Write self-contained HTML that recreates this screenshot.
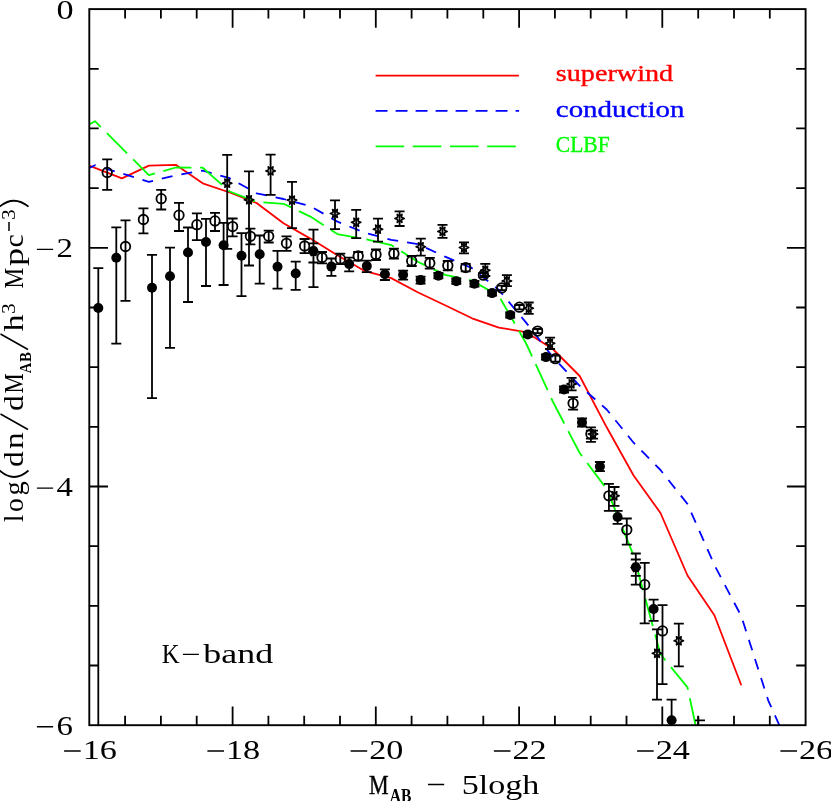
<!DOCTYPE html>
<html><head><meta charset="utf-8"><title>K-band luminosity function</title>
<style>
html,body{margin:0;padding:0;background:#fff;}
body{width:831px;height:801px;overflow:hidden;font-family:"Liberation Serif",serif;}
svg{display:block;position:absolute;left:0;top:0;will-change:transform;opacity:0.999;}
text{font-family:"Liberation Serif",serif;fill:#000;}
.ss{font-family:"Liberation Sans",sans-serif;}
</style></head><body>
<svg width="831" height="801" viewBox="0 0 831 801">
<rect x="0" y="0" width="831" height="801" fill="#fff"/>
<defs><clipPath id="c"><rect x="89.3" y="4.1" width="716.3" height="721.1"/></clipPath></defs>
<path d="M125.1 725.2v-9.4M125.1 9.1v9.4M160.9 725.2v-9.4M160.9 9.1v9.4M196.7 725.2v-9.4M196.7 9.1v9.4M232.6 725.2v-18.7M232.6 9.1v18.7M268.4 725.2v-9.4M268.4 9.1v9.4M304.2 725.2v-9.4M304.2 9.1v9.4M340.0 725.2v-9.4M340.0 9.1v9.4M375.8 725.2v-18.7M375.8 9.1v18.7M411.6 725.2v-9.4M411.6 9.1v9.4M447.4 725.2v-9.4M447.4 9.1v9.4M483.3 725.2v-9.4M483.3 9.1v9.4M519.1 725.2v-18.7M519.1 9.1v18.7M554.9 725.2v-9.4M554.9 9.1v9.4M590.7 725.2v-9.4M590.7 9.1v9.4M626.5 725.2v-9.4M626.5 9.1v9.4M662.3 725.2v-18.7M662.3 9.1v18.7M698.2 725.2v-9.4M698.2 9.1v9.4M734.0 725.2v-9.4M734.0 9.1v9.4M769.8 725.2v-9.4M769.8 9.1v9.4M89.3 68.8h9.4M805.6 68.8h-9.4M89.3 128.4h9.4M805.6 128.4h-9.4M89.3 188.1h9.4M805.6 188.1h-9.4M89.3 247.8h18.7M805.6 247.8h-18.7M89.3 307.5h9.4M805.6 307.5h-9.4M89.3 367.1h9.4M805.6 367.1h-9.4M89.3 426.8h9.4M805.6 426.8h-9.4M89.3 486.5h18.7M805.6 486.5h-18.7M89.3 546.2h9.4M805.6 546.2h-9.4M89.3 605.9h9.4M805.6 605.9h-9.4M89.3 665.5h9.4M805.6 665.5h-9.4" stroke="#000" stroke-width="1.8" fill="none"/>
<g clip-path="url(#c)" fill="none" stroke-width="1.8" stroke-linejoin="round">
<polyline points="89.3,165.6 95.0,167.8 121.9,178.4 148.9,165.6 175.8,164.8 202.7,183.3 229.7,192.5 256.6,203.0 283.5,223.3 310.4,238.6 337.4,255.2 364.3,270.8 391.2,278.1 418.2,292.5 445.1,305.2 472.0,318.3 498.9,327.6 525.9,332.1 552.8,349.0 579.7,376.0 606.7,427.3 633.6,475.5 660.5,513.0 687.5,575.5 714.4,615.3 741.3,685.3" stroke="#ff0000"/>
<polyline points="89.3,168.0 95.0,165.2 121.9,173.5 148.9,181.8 175.8,175.4 202.7,170.6 229.7,178.2 256.6,193.3 283.5,199.0 310.4,206.2 337.4,221.6 364.3,232.5 391.2,239.8 418.2,244.2 445.1,256.7 472.0,268.2 498.9,290.0 525.9,322.4 552.8,357.0 579.7,385.8 606.7,409.5 633.6,442.7 660.5,470.0 687.5,504.0 714.4,565.0 741.3,616.2 768.2,700.3 779.3,725.2 782.0,731.0" stroke="#0000ff" stroke-dasharray="11 9" stroke-dashoffset="4.0"/>
<polyline points="89.3,124.4 95.0,121.2 121.9,148.2 148.9,175.2 175.8,167.5 202.7,167.7 229.7,191.5 256.6,202.0 283.5,203.8 310.4,216.6 337.4,234.1 364.3,239.0 391.2,245.1 418.2,262.0 445.1,274.9 472.0,280.6 498.9,296.0 525.9,343.0 552.8,401.5 579.7,453.0 606.7,489.0 633.6,555.5 660.5,654.3 687.5,687.4 695.6,725.2 697.0,735.0" stroke="#00ff00" stroke-dasharray="28.6 8.6" stroke-dashoffset="13.8"/>
</g>
<g fill="none" stroke-width="1.8">
<path d="M375.6 75.6H518.9" stroke="#ff0000"/>
<path d="M375.6 110.8H519.1" stroke="#0000ff" stroke-dasharray="11.9 8.1"/>
<path d="M375.6 146.4H516" stroke="#00ff00" stroke-dasharray="28.6 8.6"/>
</g>
<path d="M107.2 159.3V189.9M102.2 189.9H112.2M102.2 159.3H112.2M125.5 220.3V300.8M120.5 300.8H130.5M120.5 220.3H130.5M143.4 208.3V233.3M138.4 233.3H148.4M138.4 208.3H148.4M161.2 189.9V209.5M156.2 209.5H166.2M156.2 189.9H166.2M179.0 202.9V231.0M174.0 231.0H184.0M174.0 202.9H184.0M196.9 213.3V240.1M191.9 240.1H201.9M191.9 213.3H201.9M215.0 212.8V231.0M210.0 231.0H220.0M210.0 212.8H220.0M232.6 218.5V236.3M227.6 236.3H237.6M227.6 218.5H237.6M250.4 228.7V244.4M245.4 244.4H255.4M245.4 228.7H255.4M268.7 230.6V242.5M263.7 242.5H273.7M263.7 230.6H273.7M286.5 236.3V250.9M281.5 250.9H291.5M281.5 236.3H291.5M304.6 239.0V253.1M299.6 253.1H309.6M299.6 239.0H309.6M322.0 252.0V263.3M317.0 263.3H327.0M317.0 252.0H327.0M340.3 253.6V264.1M335.3 264.1H345.3M335.3 253.6H345.3M358.2 252.0V260.6M353.2 260.6H363.2M353.2 252.0H363.2M376.0 249.5V260.0M371.0 260.0H381.0M371.0 249.5H381.0M393.9 248.7V258.5M388.9 258.5H398.9M388.9 248.7H398.9M411.7 256.0V266.0M406.7 266.0H416.7M406.7 256.0H416.7M429.8 257.8V268.7M424.8 268.7H434.8M424.8 257.8H434.8M447.8 261.0V270.3M442.8 270.3H452.8M442.8 261.0H452.8M465.7 263.9V271.3M460.7 271.3H470.7M460.7 263.9H470.7M483.4 273.0V277.4M478.4 277.4H488.4M478.4 273.0H488.4M501.7 285.7V290.1M496.7 290.1H506.7M496.7 285.7H506.7M519.4 305.0V309.4M514.4 309.4H524.4M514.4 305.0H524.4M537.6 329.0V333.2M532.6 333.2H542.6M532.6 329.0H542.6M555.4 355.7V361.7M550.4 361.7H560.4M550.4 355.7H560.4M573.1 397.2V409.7M568.1 409.7H578.1M568.1 397.2H578.1M590.9 427.3V441.9M585.9 441.9H595.9M585.9 427.3H595.9M608.9 483.8V510.8M603.9 510.8H613.9M603.9 483.8H613.9M626.8 518.5V544.6M621.8 544.6H631.8M621.8 518.5H631.8M644.7 562.8V623.3M639.7 623.3H649.7M639.7 562.8H649.7M662.5 605.1V684.1M657.5 684.1H667.5M657.5 605.1H667.5M98.3 268.2V725.2M93.3 268.2H103.3M116.3 227.3V343.7M111.3 343.7H121.3M111.3 227.3H121.3M152.0 254.9V398.1M147.0 398.1H157.0M147.0 254.9H157.0M170.0 247.6V347.9M165.0 347.9H175.0M165.0 247.6H175.0M188.0 227.5V302.0M183.0 302.0H193.0M183.0 227.5H193.0M206.0 218.8V286.0M201.0 286.0H211.0M201.0 218.8H211.0M223.6 222.8V285.0M218.6 285.0H228.6M218.6 222.8H228.6M241.5 233.1V296.2M236.5 296.2H246.5M236.5 233.1H246.5M259.7 235.5V283.7M254.7 283.7H264.7M254.7 235.5H264.7M277.5 250.9V288.7M272.5 288.7H282.5M272.5 250.9H282.5M295.7 261.7V289.8M290.7 289.8H300.7M290.7 261.7H300.7M313.4 243.4V262.5M308.4 262.5H318.4M308.4 243.4H318.4M331.4 258.5V275.8M326.4 275.8H336.4M326.4 258.5H336.4M349.2 257.6V271.4M344.2 271.4H354.2M344.2 257.6H354.2M366.8 260.6V272.2M361.8 272.2H371.8M361.8 260.6H371.8M384.9 269.3V280.0M379.9 280.0H389.9M379.9 269.3H389.9M403.1 270.6V279.6M398.1 279.6H408.1M398.1 270.6H408.1M420.6 276.6V283.6M415.6 283.6H425.6M415.6 276.6H425.6M438.4 273.0V278.4M433.4 278.4H443.4M433.4 273.0H443.4M456.3 278.5V283.9M451.3 283.9H461.3M451.3 278.5H461.3M474.4 281.0V286.6M469.4 286.6H479.4M469.4 281.0H479.4M492.1 290.5V295.7M487.1 295.7H497.1M487.1 290.5H497.1M510.2 312.5V317.5M505.2 317.5H515.2M505.2 312.5H515.2M527.8 332.0V336.8M522.8 336.8H532.8M522.8 332.0H532.8M546.0 354.5V359.7M541.0 359.7H551.0M541.0 354.5H551.0M564.0 386.5V392.5M559.0 392.5H569.0M559.0 386.5H569.0M582.0 418.5V426.5M577.0 426.5H587.0M577.0 418.5H587.0M599.9 462.0V471.2M594.9 471.2H604.9M594.9 462.0H604.9M617.6 510.8V523.8M612.6 523.8H622.6M612.6 510.8H622.6M635.8 559.5V575.8M630.8 575.8H640.8M630.8 559.5H640.8M653.6 599.7V620.8M648.6 620.8H658.6M648.6 599.7H658.6M671.6 699.6V725.2M666.6 699.6H676.6M227.2 154.8V248.8M222.2 248.8H232.2M222.2 154.8H232.2M249.0 171.4V265.5M244.0 265.5H254.0M244.0 171.4H254.0M270.6 154.6V194.9M265.6 194.9H275.6M265.6 154.6H275.6M292.0 181.9V228.2M287.0 228.2H297.0M287.0 181.9H297.0M313.5 229.7V287.2M308.5 287.2H318.5M308.5 229.7H318.5M335.0 200.3V229.2M330.0 229.2H340.0M330.0 200.3H340.0M356.2 209.8V238.2M351.2 238.2H361.2M351.2 209.8H361.2M378.0 218.7V241.7M373.0 241.7H383.0M373.0 218.7H383.0M399.6 211.4V226.0M394.6 226.0H404.6M394.6 211.4H404.6M420.8 238.7V255.7M415.8 255.7H425.8M415.8 238.7H425.8M442.5 224.9V237.9M437.5 237.9H447.5M437.5 224.9H447.5M464.0 242.3V253.3M459.0 253.3H469.0M459.0 242.3H469.0M485.3 263.8V276.0M480.3 276.0H490.3M480.3 263.8H490.3M506.9 275.2V286.1M501.9 286.1H511.9M501.9 275.2H511.9M528.7 302.5V313.9M523.7 313.9H533.7M523.7 302.5H533.7M550.1 337.6V349.0M545.1 349.0H555.1M545.1 337.6H555.1M571.6 377.9V390.4M566.6 390.4H576.6M566.6 377.9H576.6M593.0 430.6V438.7M588.0 438.7H598.0M588.0 430.6H598.0M614.5 487.0V505.8M609.5 505.8H619.5M609.5 487.0H619.5M635.8 553.5V584.7M630.8 584.7H640.8M630.8 553.5H640.8M657.0 629.4V699.6M652.0 699.6H662.0M652.0 629.4H662.0M678.8 623.6V666.3M673.8 666.3H683.8M673.8 623.6H683.8M313.4 229.7V287.2M308.4 287.2H318.4M308.4 229.7H318.4M590.9 430.6V438.7M585.9 438.7H595.9M585.9 430.6H595.9M698.3 716.5V725.2M695 720.4H705" stroke="#000" stroke-width="1.8" fill="none"/>
<g stroke="#000" stroke-width="1.8" fill="none">
<circle cx="107.2" cy="172.4" r="4.75"/>
<circle cx="125.5" cy="246.5" r="4.75"/>
<circle cx="143.4" cy="219.5" r="4.75"/>
<circle cx="161.2" cy="198.7" r="4.75"/>
<circle cx="179.0" cy="215.2" r="4.75"/>
<circle cx="196.9" cy="224.7" r="4.75"/>
<circle cx="215.0" cy="220.9" r="4.75"/>
<circle cx="232.6" cy="226.6" r="4.75"/>
<circle cx="250.4" cy="236.3" r="4.75"/>
<circle cx="268.7" cy="236.3" r="4.75"/>
<circle cx="286.5" cy="243.3" r="4.75"/>
<circle cx="304.6" cy="246.0" r="4.75"/>
<circle cx="322.0" cy="257.6" r="4.75"/>
<circle cx="340.3" cy="258.9" r="4.75"/>
<circle cx="358.2" cy="256.0" r="4.75"/>
<circle cx="376.0" cy="254.4" r="4.75"/>
<circle cx="393.9" cy="253.6" r="4.75"/>
<circle cx="411.7" cy="260.9" r="4.75"/>
<circle cx="429.8" cy="263.0" r="4.75"/>
<circle cx="447.8" cy="265.5" r="4.75"/>
<circle cx="465.7" cy="267.6" r="4.75"/>
<circle cx="483.4" cy="275.2" r="4.75"/>
<circle cx="501.7" cy="287.9" r="4.75"/>
<circle cx="519.4" cy="307.2" r="4.75"/>
<circle cx="537.6" cy="331.1" r="4.75"/>
<circle cx="555.4" cy="358.7" r="4.75"/>
<circle cx="573.1" cy="403.3" r="4.75"/>
<circle cx="590.9" cy="434.1" r="4.75"/>
<circle cx="608.9" cy="495.8" r="4.75"/>
<circle cx="626.8" cy="529.8" r="4.75"/>
<circle cx="644.7" cy="584.7" r="4.75"/>
<circle cx="662.5" cy="630.9" r="4.75"/>
</g>
<g stroke="#000" stroke-width="1.6" fill="none" stroke-linejoin="round">
<polygon points="231.90,183.20 229.11,184.30 229.55,187.27 227.20,185.40 224.85,187.27 225.29,184.30 222.50,183.20 225.29,182.10 224.85,179.13 227.20,181.00 229.55,179.13 229.11,182.10"/>
<polygon points="253.70,199.80 250.91,200.90 251.35,203.87 249.00,202.00 246.65,203.87 247.09,200.90 244.30,199.80 247.09,198.70 246.65,195.73 249.00,197.60 251.35,195.73 250.91,198.70"/>
<polygon points="275.30,170.90 272.51,172.00 272.95,174.97 270.60,173.10 268.25,174.97 268.69,172.00 265.90,170.90 268.69,169.80 268.25,166.83 270.60,168.70 272.95,166.83 272.51,169.80"/>
<polygon points="296.70,200.10 293.91,201.20 294.35,204.17 292.00,202.30 289.65,204.17 290.09,201.20 287.30,200.10 290.09,199.00 289.65,196.03 292.00,197.90 294.35,196.03 293.91,199.00"/>
<polygon points="318.20,251.50 315.41,252.60 315.85,255.57 313.50,253.70 311.15,255.57 311.59,252.60 308.80,251.50 311.59,250.40 311.15,247.43 313.50,249.30 315.85,247.43 315.41,250.40"/>
<polygon points="339.70,213.50 336.91,214.60 337.35,217.57 335.00,215.70 332.65,217.57 333.09,214.60 330.30,213.50 333.09,212.40 332.65,209.43 335.00,211.30 337.35,209.43 336.91,212.40"/>
<polygon points="360.90,222.30 358.11,223.40 358.55,226.37 356.20,224.50 353.85,226.37 354.29,223.40 351.50,222.30 354.29,221.20 353.85,218.23 356.20,220.10 358.55,218.23 358.11,221.20"/>
<polygon points="382.70,229.20 379.91,230.30 380.35,233.27 378.00,231.40 375.65,233.27 376.09,230.30 373.30,229.20 376.09,228.10 375.65,225.13 378.00,227.00 380.35,225.13 379.91,228.10"/>
<polygon points="404.30,218.40 401.51,219.50 401.95,222.47 399.60,220.60 397.25,222.47 397.69,219.50 394.90,218.40 397.69,217.30 397.25,214.33 399.60,216.20 401.95,214.33 401.51,217.30"/>
<polygon points="425.50,246.80 422.71,247.90 423.15,250.87 420.80,249.00 418.45,250.87 418.89,247.90 416.10,246.80 418.89,245.70 418.45,242.73 420.80,244.60 423.15,242.73 422.71,245.70"/>
<polygon points="447.20,231.40 444.41,232.50 444.85,235.47 442.50,233.60 440.15,235.47 440.59,232.50 437.80,231.40 440.59,230.30 440.15,227.33 442.50,229.20 444.85,227.33 444.41,230.30"/>
<polygon points="468.70,247.60 465.91,248.70 466.35,251.67 464.00,249.80 461.65,251.67 462.09,248.70 459.30,247.60 462.09,246.50 461.65,243.53 464.00,245.40 466.35,243.53 465.91,246.50"/>
<polygon points="490.00,270.30 487.21,271.40 487.65,274.37 485.30,272.50 482.95,274.37 483.39,271.40 480.60,270.30 483.39,269.20 482.95,266.23 485.30,268.10 487.65,266.23 487.21,269.20"/>
<polygon points="511.60,280.90 508.81,282.00 509.25,284.97 506.90,283.10 504.55,284.97 504.99,282.00 502.20,280.90 504.99,279.80 504.55,276.83 506.90,278.70 509.25,276.83 508.81,279.80"/>
<polygon points="533.40,308.20 530.61,309.30 531.05,312.27 528.70,310.40 526.35,312.27 526.79,309.30 524.00,308.20 526.79,307.10 526.35,304.13 528.70,306.00 531.05,304.13 530.61,307.10"/>
<polygon points="554.80,343.30 552.01,344.40 552.45,347.37 550.10,345.50 547.75,347.37 548.19,344.40 545.40,343.30 548.19,342.20 547.75,339.23 550.10,341.10 552.45,339.23 552.01,342.20"/>
<polygon points="576.30,383.90 573.51,385.00 573.95,387.97 571.60,386.10 569.25,387.97 569.69,385.00 566.90,383.90 569.69,382.80 569.25,379.83 571.60,381.70 573.95,379.83 573.51,382.80"/>
<polygon points="597.70,434.10 594.91,435.20 595.35,438.17 593.00,436.30 590.65,438.17 591.09,435.20 588.30,434.10 591.09,433.00 590.65,430.03 593.00,431.90 595.35,430.03 594.91,433.00"/>
<polygon points="619.20,495.80 616.41,496.90 616.85,499.87 614.50,498.00 612.15,499.87 612.59,496.90 609.80,495.80 612.59,494.70 612.15,491.73 614.50,493.60 616.85,491.73 616.41,494.70"/>
<polygon points="640.50,567.50 637.71,568.60 638.15,571.57 635.80,569.70 633.45,571.57 633.89,568.60 631.10,567.50 633.89,566.40 633.45,563.43 635.80,565.30 638.15,563.43 637.71,566.40"/>
<polygon points="661.70,653.30 658.91,654.40 659.35,657.37 657.00,655.50 654.65,657.37 655.09,654.40 652.30,653.30 655.09,652.20 654.65,649.23 657.00,651.10 659.35,649.23 658.91,652.20"/>
<polygon points="683.50,640.80 680.71,641.90 681.15,644.87 678.80,643.00 676.45,644.87 676.89,641.90 674.10,640.80 676.89,639.70 676.45,636.73 678.80,638.60 681.15,636.73 680.71,639.70"/>
</g>
<g fill="#000">
<circle cx="98.3" cy="308" r="5.0"/>
<circle cx="116.3" cy="257.8" r="5.0"/>
<circle cx="152.0" cy="287.7" r="5.0"/>
<circle cx="170.0" cy="276.3" r="5.0"/>
<circle cx="188.0" cy="252.5" r="5.0"/>
<circle cx="206.0" cy="242.0" r="5.0"/>
<circle cx="223.6" cy="245.2" r="5.0"/>
<circle cx="241.5" cy="255.8" r="5.0"/>
<circle cx="259.7" cy="254.2" r="5.0"/>
<circle cx="277.5" cy="266.8" r="5.0"/>
<circle cx="295.7" cy="273.5" r="5.0"/>
<circle cx="313.4" cy="251.1" r="5.0"/>
<circle cx="331.4" cy="266.6" r="5.0"/>
<circle cx="349.2" cy="264.1" r="5.0"/>
<circle cx="366.8" cy="266.1" r="5.0"/>
<circle cx="384.9" cy="274.2" r="5.0"/>
<circle cx="403.1" cy="274.7" r="5.0"/>
<circle cx="420.6" cy="280.1" r="5.0"/>
<circle cx="438.4" cy="275.7" r="5.0"/>
<circle cx="456.3" cy="281.2" r="5.0"/>
<circle cx="474.4" cy="283.8" r="5.0"/>
<circle cx="492.1" cy="293.1" r="5.0"/>
<circle cx="510.2" cy="315" r="5.0"/>
<circle cx="527.8" cy="334.4" r="5.0"/>
<circle cx="546.0" cy="357.1" r="5.0"/>
<circle cx="564.0" cy="389.5" r="5.0"/>
<circle cx="582.0" cy="422.5" r="5.0"/>
<circle cx="599.9" cy="466.6" r="5.0"/>
<circle cx="617.6" cy="517.0" r="5.0"/>
<circle cx="635.8" cy="567.2" r="5.0"/>
<circle cx="653.6" cy="609.0" r="5.0"/>
<circle cx="671.6" cy="720.3" r="5.0"/>
</g>
<rect x="89.3" y="9.1" width="716.3" height="716.1" fill="none" stroke="#000" stroke-width="1.9"/>
<text x="82.7" y="759.3" font-size="28" text-anchor="start" textLength="34.2" lengthAdjust="spacingAndGlyphs" >16</text>
<text x="226.0" y="759.3" font-size="28" text-anchor="start" textLength="34.2" lengthAdjust="spacingAndGlyphs" >18</text>
<text x="369.2" y="759.3" font-size="28" text-anchor="start" textLength="34.2" lengthAdjust="spacingAndGlyphs" >20</text>
<text x="512.5" y="759.3" font-size="28" text-anchor="start" textLength="34.2" lengthAdjust="spacingAndGlyphs" >22</text>
<text x="655.7" y="759.3" font-size="28" text-anchor="start" textLength="34.2" lengthAdjust="spacingAndGlyphs" >24</text>
<text x="799.0" y="759.3" font-size="28" text-anchor="start" textLength="34.2" lengthAdjust="spacingAndGlyphs" >26</text>
<text x="56.4" y="18.6" font-size="28" text-anchor="start" textLength="17.1" lengthAdjust="spacingAndGlyphs" >0</text>
<text x="56.6" y="257.4" font-size="28" text-anchor="start" textLength="16.4" lengthAdjust="spacingAndGlyphs" >2</text>
<text x="56.6" y="496.1" font-size="28" text-anchor="start" textLength="16.4" lengthAdjust="spacingAndGlyphs" >4</text>
<text x="56.6" y="734.8" font-size="28" text-anchor="start" textLength="16.4" lengthAdjust="spacingAndGlyphs" >6</text>
<path d="M64.1 751H80.7M207.4 751H224.0M350.6 751H367.2M493.9 751H510.5M637.1 751H653.7M780.4 751H797.0M36.9 249.4H53.1M36.9 488.1H53.1M36.9 726.8H53.1M182.9 654.4H198.9M428 784.5H444.2" stroke="#000" stroke-width="1.4" fill="none"/>
<text x="161.8" y="662.9" font-size="28" text-anchor="start" textLength="17.8" lengthAdjust="spacingAndGlyphs" >K</text>
<text x="203.3" y="662.9" font-size="28" text-anchor="start" textLength="69.8" lengthAdjust="spacingAndGlyphs" >band</text>
<text x="555.8" y="81.0" font-size="22.5" text-anchor="start" textLength="117.4" lengthAdjust="spacingAndGlyphs" style="fill:#ff0000;stroke:#ff0000;stroke-width:0.35">superwind</text>
<text x="555.8" y="117.0" font-size="22.5" text-anchor="start" textLength="128.6" lengthAdjust="spacingAndGlyphs" style="fill:#0000ff;stroke:#0000ff;stroke-width:0.35">conduction</text>
<text x="555.8" y="152.2" font-size="22.5" text-anchor="start" textLength="53.9" lengthAdjust="spacingAndGlyphs" style="fill:#00ff00;stroke:#00ff00;stroke-width:0.35">CLBF</text>
<text x="369.0" y="793.6" font-size="28" text-anchor="start" textLength="19.6" lengthAdjust="spacingAndGlyphs" stroke="#000" stroke-width="0.4">M</text>
<text x="389.8" y="802.0" font-size="18.5" text-anchor="start" textLength="21.6" lengthAdjust="spacingAndGlyphs" font-weight="bold">AB</text>
<text x="461.8" y="793.6" font-size="28" text-anchor="start" textLength="77.6" lengthAdjust="spacingAndGlyphs" >5logh</text>
<g transform="translate(23,521.5) rotate(-90)">
<text x="-0.6" y="0" font-size="28" textLength="7.2" lengthAdjust="spacingAndGlyphs" >l</text>
<text x="9.4" y="0" font-size="28" textLength="13.7" lengthAdjust="spacingAndGlyphs" >o</text>
<text x="25.9" y="0" font-size="28" textLength="14.2" lengthAdjust="spacingAndGlyphs" >g</text>
<text x="54.4" y="0" font-size="28" textLength="15.7" lengthAdjust="spacingAndGlyphs" >d</text>
<text x="72.4" y="0" font-size="28" textLength="16.7" lengthAdjust="spacingAndGlyphs" >n</text>
<text x="110.4" y="0" font-size="28" textLength="15.7" lengthAdjust="spacingAndGlyphs" >d</text>
<text x="127.9" y="0" font-size="28" textLength="20.2" lengthAdjust="spacingAndGlyphs" >M</text>
<text x="189.9" y="0" font-size="28" textLength="17.2" lengthAdjust="spacingAndGlyphs" >h</text>
<text x="232.9" y="0" font-size="28" textLength="20.7" lengthAdjust="spacingAndGlyphs" >M</text>
<text x="255.4" y="0" font-size="28" textLength="18.2" lengthAdjust="spacingAndGlyphs" >p</text>
<text x="273.9" y="0" font-size="28" textLength="13.2" lengthAdjust="spacingAndGlyphs" >c</text>
<g font-weight="bold">
<text x="148.3" y="8.4" font-size="17.5" textLength="10.6" lengthAdjust="spacingAndGlyphs" >A</text>
<text x="159.5" y="8.4" font-size="17.5" textLength="10.0" lengthAdjust="spacingAndGlyphs" >B</text>
</g>
<text x="207.4" y="-8" font-size="19" textLength="10.7" lengthAdjust="spacingAndGlyphs" >3</text>
<text x="301.4" y="-8" font-size="19" textLength="10.7" lengthAdjust="spacingAndGlyphs" >3</text>
<path d="M290.5 -14H299.5M92 5L107.5 -22.5M172 5L187.5 -22.5" stroke="#000" stroke-width="1.5" fill="none"/>
<path d="M51 -23.5Q38 -9 51 5.5M314.8 -23.5Q326.7 -9 314.8 5.5" stroke="#000" stroke-width="1.7" fill="none"/>
</g>
</svg></body></html>
